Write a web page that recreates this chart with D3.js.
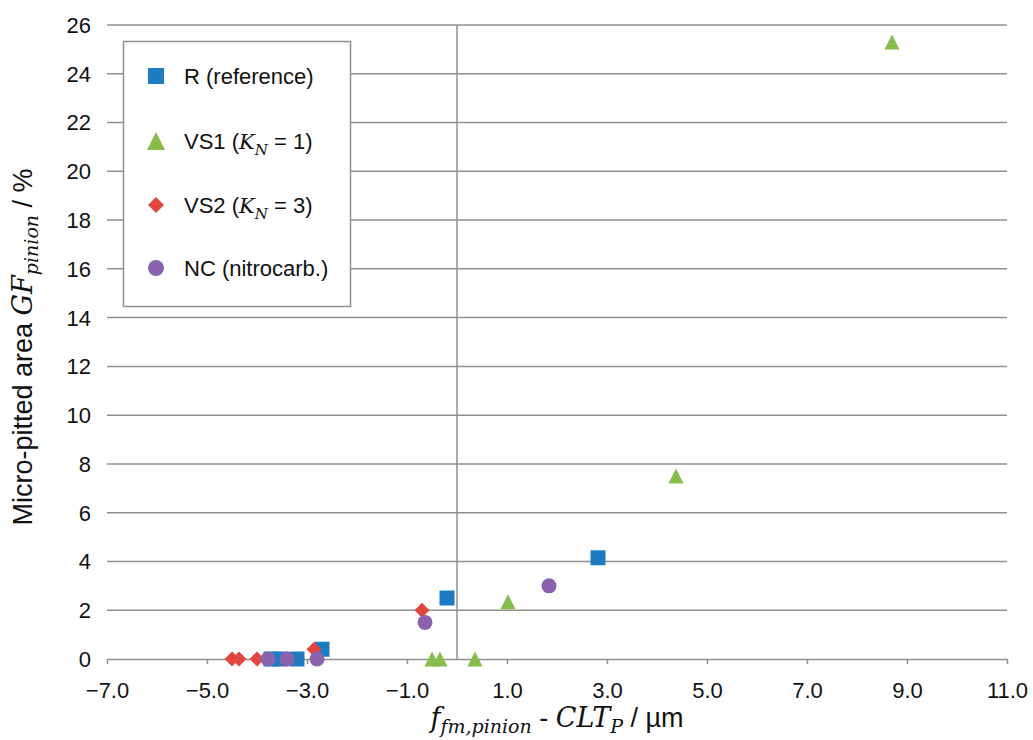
<!DOCTYPE html>
<html>
<head>
<meta charset="utf-8">
<script src="https://cdn.jsdelivr.net/npm/d3@7"></script>
<style>
  body { margin: 0; background: #fff; }
  text { font-family: "Liberation Sans", Arial, sans-serif; fill: #111; }
  .math { font-family: "DejaVu Serif", "Liberation Serif", serif; font-style: italic; }
</style>
</head>
<body>
<svg width="1033" height="740"></svg>
<script>
// series values: [x (µm), y (%)]
const seriesR = [[-0.2, 2.5], [2.82, 4.15], [-2.7, 0.4], [-3.72, 0], [-3.54, 0], [-3.2, 0]];
const seriesVS1 = [[8.7, 25.3], [4.38, 7.5], [1.02, 2.35], [-0.5, 0], [-0.34, 0], [0.36, 0]];
const seriesVS2 = [[-0.7, 2.0], [-2.86, 0.4], [-4.5, 0], [-4.36, 0], [-4.0, 0]];
const seriesNC = [[1.84, 3.0], [-0.64, 1.5], [-3.78, 0], [-3.4, 0], [-2.8, 0]];

const xTicks = [-7, -5, -3, -1, 1, 3, 5, 7, 9, 11];
const yTicks = [0, 2, 4, 6, 8, 10, 12, 14, 16, 18, 20, 22, 24, 26];

// marker shapes, size = width in px
const square = { draw(c, s) { c.rect(-s / 2, -s / 2, s, s); } };
const triangle = { draw(c, s) { c.moveTo(0, -s / 2); c.lineTo(s / 2, s / 2); c.lineTo(-s / 2, s / 2); c.closePath(); } };
const diamond = { draw(c, s) { c.moveTo(0, -s / 2); c.lineTo(s / 2, 0); c.lineTo(0, s / 2); c.lineTo(-s / 2, 0); c.closePath(); } };
const circle = { draw(c, s) { c.moveTo(s / 2, 0); c.arc(0, 0, s / 2, 0, 2 * Math.PI); } };

const series = [
  { data: seriesR, shape: square, color: "#1f7bc1", size: 15 },
  { data: seriesVS1, shape: triangle, color: "#86bc4a", size: 15 },
  { data: seriesVS2, shape: diamond, color: "#e2463f", size: 15 },
  { data: seriesNC, shape: circle, color: "#8a62ae", size: 15 }
];

const svg = d3.select("svg");
const x = d3.scaleLinear().domain([-7, 11]).range([107, 1007]);
const y = d3.scaleLinear().domain([0, 26]).range([659, 25]);
const grid = "#8f8f8f";

// horizontal gridlines
svg.append("g").selectAll("line")
  .data(yTicks.filter(d => d > 0))
  .enter().append("line")
  .attr("x1", x(-7)).attr("x2", x(11))
  .attr("y1", d => y(d)).attr("y2", d => y(d))
  .attr("stroke", grid).attr("stroke-width", 1.5);

// vertical axis at x = 0
svg.append("line")
  .attr("x1", x(0)).attr("x2", x(0))
  .attr("y1", y(26)).attr("y2", y(0))
  .attr("stroke", grid).attr("stroke-width", 1.5);

// x axis
const xAxis = svg.append("g")
  .attr("transform", `translate(0,${y(0)})`)
  .call(d3.axisBottom(x).tickValues(xTicks).tickSizeInner(5).tickSizeOuter(0)
    .tickFormat(d => d3.format(".1f")(d).replace("-", "\u2212")));
xAxis.select(".domain").attr("stroke", grid).attr("stroke-width", 1.5);
xAxis.selectAll(".tick line").attr("stroke", grid).attr("stroke-width", 1.5);
xAxis.selectAll(".tick text").attr("y", 31).attr("dy", "0.35em").style("font-size", "22px")
  .style("font-family", "Liberation Sans, Arial, sans-serif").attr("fill", "#111");

// y tick labels
svg.append("g").selectAll("text")
  .data(yTicks)
  .enter().append("text")
  .attr("x", 91).attr("y", d => y(d))
  .attr("dy", "0.36em").attr("text-anchor", "end")
  .style("font-size", "22px")
  .text(d => d);

// points
series.forEach(s => {
  svg.append("g").selectAll("path")
    .data(s.data)
    .enter().append("path")
    .attr("transform", d => `translate(${x(d[0])},${y(d[1])})`)
    .attr("d", d3.symbol().type(s.shape).size(s.size))
    .attr("fill", s.color);
});

// legend
const legend = svg.append("g");
legend.append("rect")
  .attr("x", 123.5).attr("y", 41.5).attr("width", 227).attr("height", 265)
  .attr("fill", "#fff").attr("stroke", grid).attr("stroke-width", 1.5);

const legendRows = [
  { s: series[0], y: 76, parts: [["R (reference)"]] },
  { s: series[1], y: 141, parts: [["VS1 ("], ["K", "math"], ["N", "sub"], [" = 1)", "up"]] },
  { s: series[2], y: 205, parts: [["VS2 ("], ["K", "math"], ["N", "sub"], [" = 3)", "up"]] },
  { s: series[3], y: 268, parts: [["NC (nitrocarb.)"]] }
];
legendRows.forEach(r => {
  legend.append("path")
    .attr("transform", `translate(156,${r.y})`)
    .attr("d", d3.symbol().type(r.s.shape).size(r.s === series[1] ? 18 : 16))
    .attr("fill", r.s.color);
  const t = legend.append("text").attr("x", 184).attr("y", r.y).attr("dy", "0.36em")
    .style("font-size", "22px");
  r.parts.forEach(p => {
    const ts = t.append("tspan").text(p[0]);
    if (p[1] === "math") ts.attr("class", "math").style("font-size", "21px");
    if (p[1] === "sub") ts.attr("class", "math").attr("dy", 6).style("font-size", "15px");
    if (p[1] === "up") ts.attr("dy", -6);
  });
});

// x axis title
const xt = svg.append("text").attr("x", 557).attr("y", 727)
  .attr("text-anchor", "middle").style("font-size", "27px");
xt.append("tspan").attr("class", "math").text("f");
xt.append("tspan").attr("class", "math").attr("dy", 6).style("font-size", "19px").text("fm,pinion");
xt.append("tspan").attr("dy", -6).text(" - ");
xt.append("tspan").attr("class", "math").text("CLT");
xt.append("tspan").attr("class", "math").attr("dy", 6).style("font-size", "19px").text("P");
xt.append("tspan").attr("dy", -6).text(" / \u00b5m");

// y axis title
const yt = svg.append("text")
  .attr("transform", "translate(32,347) rotate(-90)")
  .attr("text-anchor", "middle").style("font-size", "27px");
yt.append("tspan").text("Micro-pitted area ");
yt.append("tspan").attr("class", "math").text("GF");
yt.append("tspan").attr("class", "math").attr("dy", 6).style("font-size", "19px").text("pinion");
yt.append("tspan").attr("dy", -6).text(" / %");
</script>
</body>
</html>
